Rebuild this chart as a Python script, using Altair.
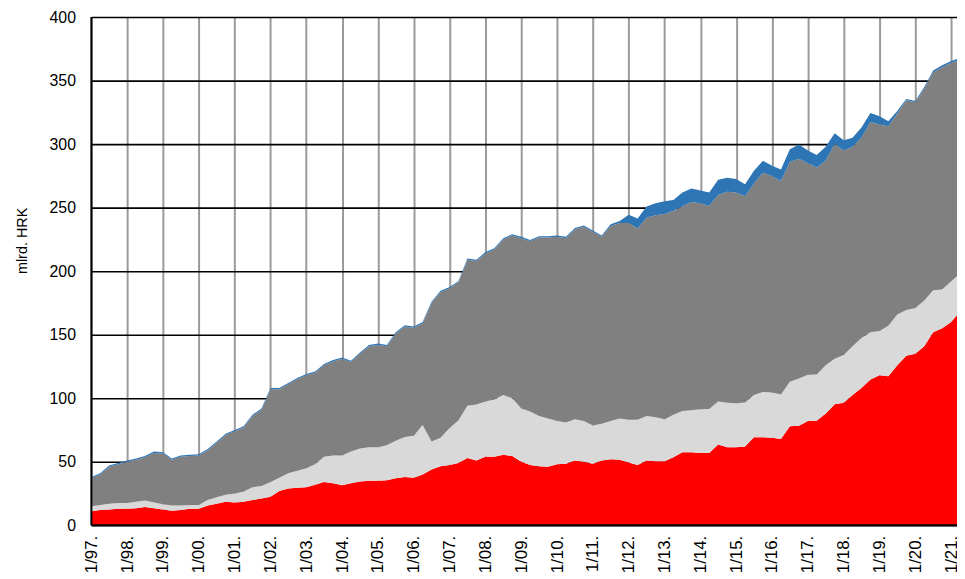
import altair as alt
import pandas as pd

# Quarterly observation dates (Jan/Apr/Jul/Oct) 1997-01 .. 2021-01, plus last point 2021-03
dates = [d.strftime("%Y-%m-%d") for d in pd.date_range("1997-01-01", "2021-01-01", freq="QS")] + ["2021-03-01"]

# Cumulative boundaries (mlrd. HRK)
# red layer top
red_top = [
    11, 12, 12.5, 13,
    13, 13.5, 14.5, 13.5,
    12.5, 11.5, 12, 13,
    13, 15.5, 17, 18.5,
    18, 18.5, 20, 21,
    22.5, 27, 29, 29.5,
    30, 32, 34, 33,
    31.5, 33, 34.5, 35,
    35, 35.5, 37, 38,
    37.5, 40, 44, 46.5,
    47.5, 49, 53, 51,
    54, 54, 55.5, 54.5,
    50, 47.5, 46.5, 46,
    48, 48.5, 51, 50,
    48.5, 51, 52, 51.5,
    49.5, 47.5, 51, 50.5,
    50.5, 53.5, 57.5, 57.5,
    57, 57, 63.5, 61.5,
    61.5, 62, 69.3, 69.3,
    69, 68, 78, 78.4,
    82, 82.3, 88, 95.3,
    96.5, 102.5, 108, 114.8,
    118, 117.4, 126, 133.5,
    135, 141, 152, 155,
    160, 165.5,
]
# light grey layer top
light_top = [
    15, 16, 17, 17.5,
    17.5, 18.5, 19.5, 18,
    16.5, 15.5, 15.5, 16,
    16, 20, 22, 24,
    25, 26.5, 30, 31,
    34, 37.5, 41, 43,
    45, 48, 54, 55,
    55, 58, 60.5, 61.5,
    61.5, 63, 66.5, 69.5,
    70.5, 79, 66, 69,
    76.5, 82.5, 94, 95,
    97.5, 99, 102.5, 100,
    92, 89.5, 86, 84,
    82, 81, 83.5, 82,
    78.5, 80, 82, 84,
    83, 83, 86, 85,
    83.5, 87, 90, 90.5,
    91.4, 91.5, 97.5, 96.5,
    96, 96.6, 102.5, 105,
    104.5, 103, 113, 115.5,
    118.5, 118.75, 126, 131,
    134, 141, 147.5, 152,
    153, 157, 166, 169.5,
    171, 177, 185, 185.5,
    192, 196,
]
# dark grey layer top
dark_top = [
    37, 40, 46, 48,
    50, 51.5, 53.5, 57,
    56.5, 51.5, 54, 54.5,
    55, 59, 65, 71,
    74, 77, 86, 91,
    107, 107, 111, 115,
    118, 120, 126, 129,
    131, 128.5, 135, 141,
    142, 141, 151, 156.5,
    155.5, 159, 175, 183.5,
    186.5, 191, 209, 208,
    214, 217, 225, 228,
    226, 223.5, 226.5, 226.5,
    227, 226, 233, 235,
    231, 227, 235.5, 238,
    238, 233.5, 242, 244,
    245, 247.5, 251, 254.5,
    253.5, 251.5, 260, 262.5,
    262, 259, 269, 277.5,
    275, 271, 286, 288.5,
    285, 281.5, 287, 300,
    295, 298, 305, 317.5,
    315.5, 314, 324, 334.5,
    333, 343.5, 356.5, 360.5,
    364, 365.5,
]
# blue layer top (total)
total_top = [
    38, 41, 47, 49,
    51, 52.5, 54.5, 58,
    57.5, 52.5, 55, 55.5,
    56, 60, 66, 72,
    75, 78, 87, 92,
    108, 108, 112, 116,
    119, 121, 127, 130,
    132, 129.5, 136, 142,
    143, 142, 152, 157.5,
    156.5, 160, 176, 184.5,
    187.5, 192, 210, 209,
    215, 218, 226, 229,
    227, 224.5, 227.5, 227.5,
    228, 227, 234, 236,
    232, 228, 237, 239.5,
    244.5, 241.5, 251, 253.5,
    255, 256, 262, 265,
    263.5, 262, 272, 273.5,
    272.5, 268.5, 279, 287,
    283, 280, 296, 299.7,
    295, 291.5, 298, 308.5,
    303, 305, 313, 324.5,
    322, 318, 326, 335.5,
    334, 345, 358, 362,
    365.5, 367,
]

y_ticks = list(range(0, 401, 50))

df = pd.DataFrame({"date": dates, "R": red_top, "L": light_top, "D": dark_top, "T": total_top})

FONT = "Liberation Sans"

x_enc = alt.X(
    "date:T",
    scale=alt.Scale(
        type="utc",
        domain=[alt.DateTime(year=1997, month=1, date=1, utc=True),
                alt.DateTime(year=2021, month=3, date=1, utc=True)],
        nice=False,
    ),
    axis=alt.Axis(
        tickCount=alt.TimeIntervalStep(interval="year", step=1),
        labelExpr="'1/' + utcFormat(datum.value, '%y') + '.'",
        labelAngle=270,
        labelAlign="right",
        labelBaseline="middle",
        labelPadding=10,
        labelFontSize=17,
        labelFont=FONT,
        labelColor="black",
        labelOverlap=False,
        labelFlush=False,
        ticks=False,
        domain=False,
        grid=True,
        gridColor="#9a9a9a",
        gridWidth=2,
    ),
    title=None,
)

y_scale = alt.Scale(domain=[0, 400], nice=False, zero=True)
y_axis = alt.Axis(
    values=y_ticks,
    labelFontSize=16,
    labelFont=FONT,
    labelColor="black",
    labelPadding=16,
    ticks=False,
    domain=False,
    grid=True,
    gridColor="black",
    gridWidth=1.6,
    title="mlrd. HRK",
    titleFont=FONT,
    titleFontSize=14.5,
    titleFontWeight="normal",
    titleColor="black",
    titleX=-69,
    titleY=225,
    titleBaseline="middle",
    titleAngle=270,
)

base = alt.Chart(df)

red = base.mark_area(color="#ff0000", interpolate="linear").encode(
    x=x_enc, y=alt.Y("R:Q", scale=y_scale, axis=y_axis))
light = base.mark_area(color="#d9d9d9").encode(x="date:T", y="L:Q", y2="R:Q")
dark = base.mark_area(color="#808080").encode(x="date:T", y="D:Q", y2="L:Q")
blue = base.mark_area(color="#2e75b6").encode(x="date:T", y="T:Q", y2="D:Q")

bottom_line = alt.Chart(pd.DataFrame({"v": [0]})).mark_rule(color="black", strokeWidth=2).encode(
    y=alt.datum(0))
left_line = alt.Chart(pd.DataFrame({"v": [0]})).mark_rule(color="black", strokeWidth=2).encode(
    x=alt.datum(alt.DateTime(year=1997, month=1, date=1, utc=True)))

chart = alt.layer(red, light, dark, blue, bottom_line, left_line).properties(
    width=872,
    height=512,
    autosize=alt.AutoSizeParams(type="none"),
    padding={"left": 84, "top": 7, "right": 0, "bottom": 56},
    background="white",
).configure_view(stroke=None)

chart.save("out.html", embed_options={"renderer": "svg", "actions": False})
